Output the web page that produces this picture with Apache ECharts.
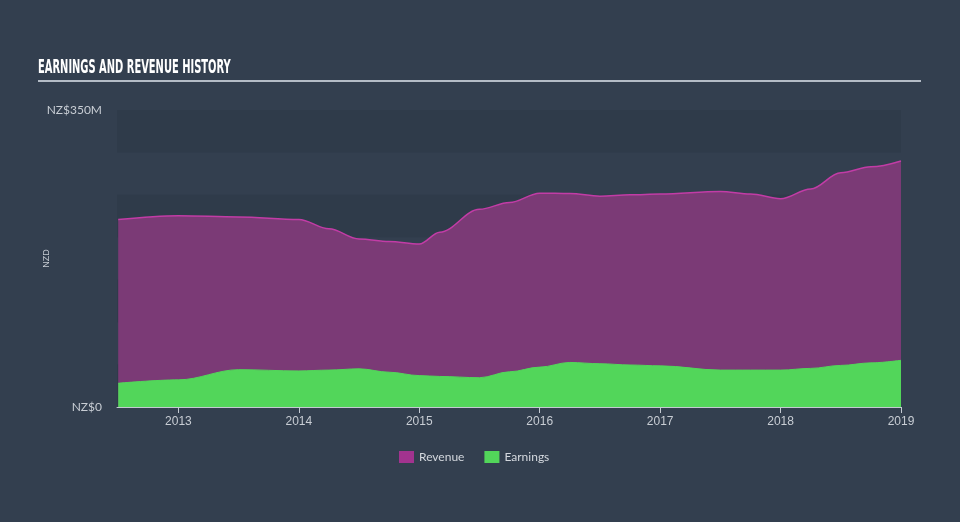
<!DOCTYPE html>
<html>
<head>
<meta charset="utf-8">
<script src="https://cdn.jsdelivr.net/npm/echarts@6/dist/echarts.min.js"></script>
<style>
html,body{margin:0;padding:0;background:#333f4f;}
#chart{width:960px;height:522px;}
</style>
</head>
<body>
<div id="chart"></div>
<script>
// Time in decimal years
const periods = [2012.5, 2013.0, 2013.5, 2014.0, 2014.25, 2014.5, 2014.75, 2015.0, 2015.17, 2015.5, 2015.75, 2016.0, 2016.25, 2016.5, 2016.75, 2017.0, 2017.5, 2017.75, 2018.0, 2018.25, 2018.5, 2018.75, 2019.0];
// NZ$ millions
const revenue = [221, 225.5, 224, 221, 210, 198, 195, 192, 206, 233, 241, 252, 251.5, 248.5, 250, 251, 254, 251, 245.5, 257, 276, 283, 290];
const earnings = [28, 32, 44, 42.5, 43.5, 45, 41, 37, 36, 34.5, 41.5, 47, 52.5, 51, 49.5, 48.5, 43.5, 43.5, 43.5, 45.5, 49, 52, 55];
const yearTicks = [2013, 2014, 2015, 2016, 2017, 2018, 2019];
const yTickLabels = {0: 'NZ$0', 350: 'NZ$350M'};
const titleText = 'EARNINGS AND REVENUE HISTORY';

const chart = echarts.init(document.getElementById('chart'));
const pair = (arr) => periods.map((p, i) => [p, arr[i]]);

chart.setOption({
  backgroundColor: '#333f4f',
  animation: false,
  graphic: [
    {type: 'text', left: 38, top: 59, scaleX: 0.58,
     style: {text: titleText, fill: '#ffffff', font: 'bold 19px "Liberation Sans Narrow", "DejaVu Sans Condensed", sans-serif'}},
    {type: 'rect', shape: {x: 38, y: 80, width: 883, height: 2}, style: {fill: '#b4bcc6'}}
  ],
  grid: {left: 117, right: 59, top: 110, bottom: 115},
  legend: {
    data: ['Revenue', 'Earnings'],
    bottom: 54, left: 394,
    icon: 'rect', itemWidth: 15, itemHeight: 12, itemGap: 20,
    textStyle: {color: '#d4d8de', fontSize: 12, fontFamily: 'Lato, sans-serif'}
  },
  xAxis: {
    type: 'value', min: 2012.49, max: 2019.0,
    axisLine: {show: true, lineStyle: {color: '#c4cad2', width: 1}},
    axisTick: {show: true, length: 6, customValues: yearTicks, lineStyle: {color: '#c4cad2'}},
    axisLabel: {customValues: yearTicks, color: '#c8cdd4', fontSize: 12, margin: 9,
      fontFamily: '"Liberation Sans Narrow", sans-serif', formatter: (v) => String(Math.round(v))},
    splitLine: {show: false}
  },
  yAxis: {
    type: 'value', min: 0, max: 350, interval: 50,
    name: 'NZD', nameLocation: 'middle', nameGap: 66, nameRotate: 90, nameMoveOverlap: false,
    nameTextStyle: {color: '#c8cdd4', fontSize: 9},
    axisLine: {show: false}, axisTick: {show: false},
    axisLabel: {color: '#c8cdd4', fontSize: 12, margin: 15, fontFamily: 'Lato, sans-serif',
      verticalAlign: 'middle', padding: [0, 0, 4, 0],
      formatter: (v) => yTickLabels[v] || ''},
    splitLine: {show: false},
    splitArea: {show: true, areaStyle: {color: ['#2f3b4a', 'rgba(0,0,0,0)']}}
  },
  series: [
    {name: 'Revenue', type: 'line', data: pair(revenue), smooth: 0.35, smoothMonotone: 'x',
     showSymbol: false, itemStyle: {color: '#a2338f'},
     lineStyle: {color: '#c23ca6', width: 1.5},
     areaStyle: {color: '#7b3a76', opacity: 1}, z: 2},
    {name: 'Earnings', type: 'line', data: pair(earnings), smooth: 0.35, smoothMonotone: 'x',
     showSymbol: false, itemStyle: {color: '#52d65a'},
     lineStyle: {color: '#52d65a', width: 1},
     areaStyle: {color: '#52d65a', opacity: 1}, z: 3}
  ]
});
</script>
</body>
</html>
